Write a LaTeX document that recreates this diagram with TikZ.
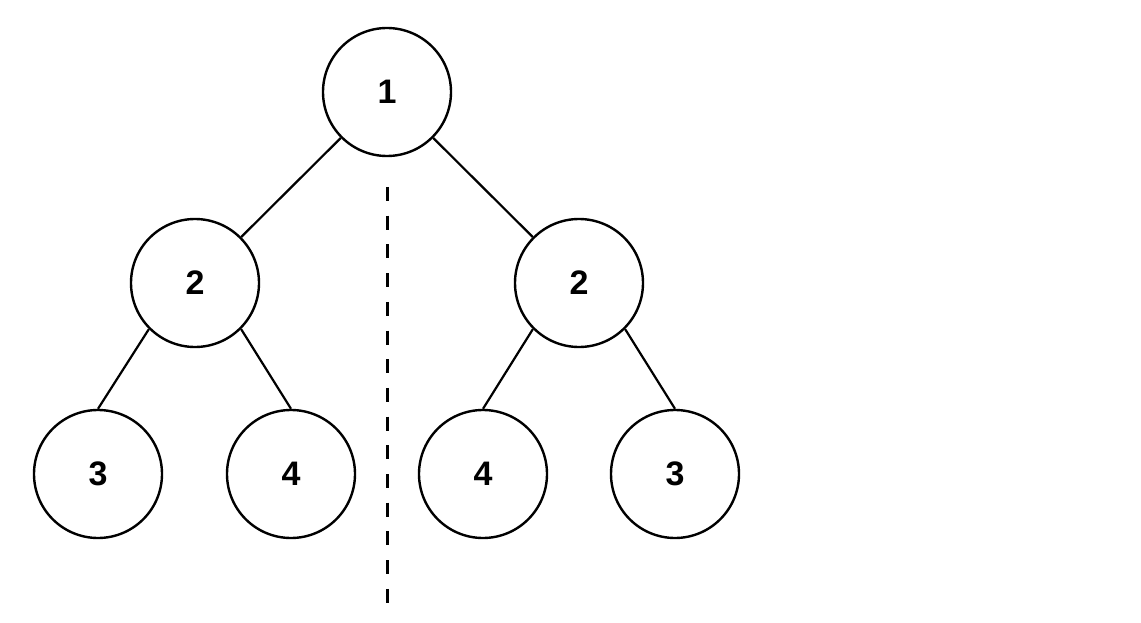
\documentclass[tikz,border=0pt]{standalone}
\usepackage{fontspec}
\setmainfont{Liberation Sans}
\begin{document}
\begin{tikzpicture}[x=1pt,y=-1pt,
  tnode/.style={circle,draw=black,line width=2.4pt,minimum size=128pt,inner sep=0pt,font=\fontsize{34}{38}\selectfont\bfseries},
  tedge/.style={draw=black,line width=2.2pt},
  midline/.style={draw=black,line width=3pt,dash pattern=on 14pt off 14.7pt}]
\useasboundingbox (0,0) rectangle (1141,623);
\node[tnode] (r) at (387,92) {\raisebox{-2pt}{1}};
\node[tnode] (l) at (195,283) {\raisebox{-2pt}{2}};
\node[tnode] (rr) at (579,283) {\raisebox{-2pt}{2}};
\node[tnode] (ll) at (98,474) {\raisebox{-2pt}{3}};
\node[tnode] (lr) at (291,474) {\raisebox{-2pt}{4}};
\node[tnode] (rl) at (483,474) {\raisebox{-2pt}{4}};
\node[tnode] (rrr) at (675,474) {\raisebox{-2pt}{3}};
\draw[tedge] (r) -- (l);
\draw[tedge] (r) -- (rr);
\draw[tedge] (l.south west) -- (ll.north);
\draw[tedge] (l.south east) -- (lr.north);
\draw[tedge] (rr.south west) -- (rl.north);
\draw[tedge] (rr.south east) -- (rrr.north);
\coordinate (dtop) at (387,187);
\coordinate (dbot) at (387,603);
\draw[midline] (dtop) -- (dbot);
\end{tikzpicture}
\end{document}
